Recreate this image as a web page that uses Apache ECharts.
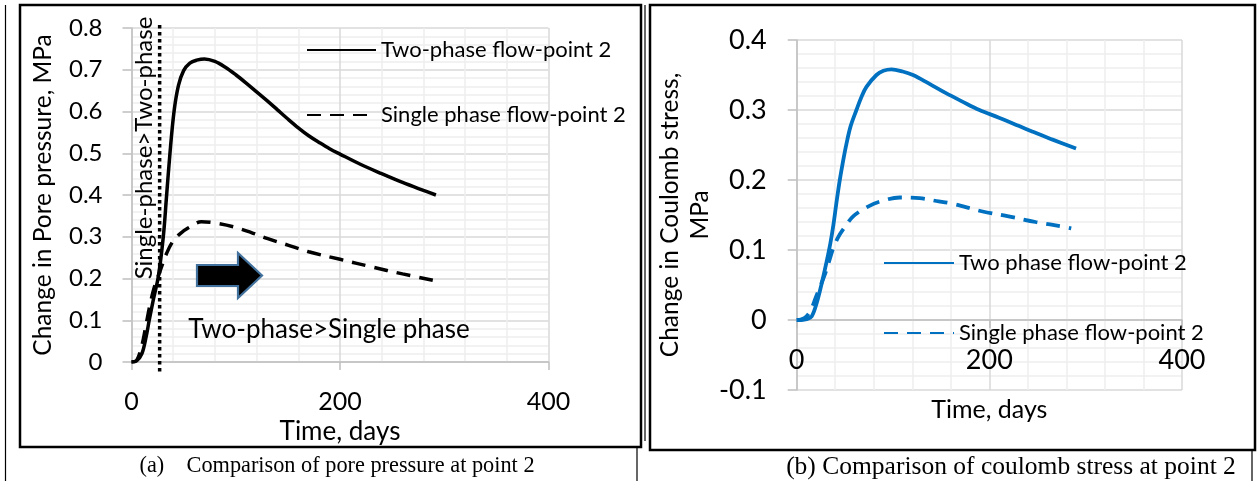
<!DOCTYPE html>
<html>
<head>
<meta charset="utf-8">
<script src="https://cdn.jsdelivr.net/npm/echarts@6/dist/echarts.min.js"></script>
<style>
html,body{margin:0;padding:0;background:#fff;}
#chart{width:1259px;height:481px;}
</style>
</head>
<body>
<div id="chart"></div>
<script>
// ---------- data ----------
const xTicks = [0, 200, 400];
const leftYTicks = [0, 0.1, 0.2, 0.3, 0.4, 0.5, 0.6, 0.7, 0.8];
const rightYTicks = [-0.1, 0, 0.1, 0.2, 0.3, 0.4];

const leftTwoPhaseName = 'Two-phase flow-point 2';
const leftSingleName = 'Single phase flow-point 2';
const rightTwoPhaseName = 'Two phase flow-point 2';
const rightSingleName = 'Single phase flow-point 2 ';

// (a) change in pore pressure, MPa vs time, days
const leftTwoPhase = [[0,0],[5,0.003],[10,0.02],[14,0.06],[17,0.1],[21,0.15],[25.7,0.204],[30.5,0.30],[33.7,0.40],[36.9,0.50],[40.8,0.60],[45,0.662],[50,0.698],[56,0.716],[62.5,0.723],[70,0.726],[80,0.720],[90,0.706],[100,0.688],[110,0.668],[120,0.647],[130,0.626],[140,0.604],[150,0.582],[160,0.561],[170,0.542],[180,0.526],[190,0.511],[200,0.498],[220,0.473],[240,0.451],[260,0.43],[280,0.411],[292,0.40]];
const leftSinglePhase = [[0,0],[5,0.004],[10,0.04],[14,0.09],[18,0.14],[22,0.18],[27,0.215],[34,0.262],[40,0.29],[46.5,0.307],[55,0.322],[67,0.336],[80,0.333],[97.6,0.324],[115,0.31],[130,0.296],[150,0.28],[170,0.264],[200,0.246],[230,0.228],[260,0.211],[289,0.196]];
const dividerDay = [[27,0.807],[27,-0.024]];

// (b) change in Coulomb stress, MPa vs time, days
const rightTwoPhase = [[0,0],[5,0],[10.3,0.001],[15.5,0.005],[20.7,0.024],[25.9,0.052],[31,0.083],[35,0.11],[38,0.135],[41,0.165],[44.5,0.198],[48,0.226],[51.7,0.252],[56,0.277],[62,0.30],[67,0.318],[72.4,0.333],[82.8,0.35],[90,0.356],[98.3,0.358],[110,0.355],[120.7,0.35],[137,0.338],[155,0.324],[172,0.312],[189.7,0.30],[210,0.289],[231,0.277],[245,0.269],[265,0.258],[290,0.245]];
const rightSinglePhase = [[0,0],[5,0.001],[10,0.005],[15,0.015],[20,0.033],[25,0.05],[30,0.068],[35,0.09],[38,0.103],[43,0.118],[48,0.129],[58.6,0.148],[74,0.162],[86,0.169],[107,0.175],[127.6,0.174],[145,0.17],[162,0.166],[193,0.155],[220,0.148],[248,0.14],[278,0.133],[285,0.131]];

// ---------- chart ----------
const FONT = 'Lato, "Open Sans", sans-serif';
const BLUE = '#0070C0';
const chart = echarts.init(document.getElementById('chart'), null, {renderer:'canvas'});

function xAxisCfg(gridIndex, labelSize, margin, nameGap, nameSize, offset) {
  return {
    type:'value', gridIndex, min:0, max:400, interval:200, offset,
    name:'Time, days', nameLocation:'middle', nameGap,
    nameTextStyle:{fontFamily:FONT, fontSize:nameSize, color:'#000'},
    axisLine:{show:true, onZero:false, lineStyle:{color:'#bfbfbf', width:1.5}},
    axisTick:{show:true, length:8, lineStyle:{color:'#bfbfbf', width:1.5}},
    axisLabel:{fontFamily:FONT, fontSize:labelSize, color:'#000', margin},
    splitLine:{show:true, lineStyle:{color:'#d9d9d9', width:1.5}},
    minorTick:{show:false, splitNumber:5},
    minorSplitLine:{show:true, lineStyle:{color:'#eeeeee', width:1.5}}
  };
}
function yAxisCfg(gridIndex, min, max, labelSize, margin, name, nameGap, nameSize, lh) {
  return {
    type:'value', gridIndex, min, max, interval:0.1,
    name, nameLocation:'middle', nameGap, nameRotate:90,
    nameTextStyle:{fontFamily:FONT, fontSize:nameSize, color:'#000', lineHeight:lh, align:'center'},
    axisLine:{show:true, onZero:false, lineStyle:{color:'#bfbfbf', width:1.5}},
    axisTick:{show:true, length:9, lineStyle:{color:'#bfbfbf', width:1.5}},
    axisLabel:{fontFamily:FONT, fontSize:labelSize, color:'#000', margin,
      formatter:v => String(Math.round(v*10)/10)},
    splitLine:{show:true, lineStyle:{color:'#d9d9d9', width:1.5}},
    minorTick:{show:false, splitNumber:5},
    minorSplitLine:{show:true, lineStyle:{color:'#eeeeee', width:1.5}}
  };
}

const legendText = {fontFamily:FONT, fontSize:22, color:'#000', lineHeight:24};
const option = {
  animation:false,
  backgroundColor:'#fff',
  grid:[
    {left:131.5, right:1259-548.5, top:28, bottom:481-362, containLabel:false, outerBoundsMode:'none'},
    {left:796.7, right:1259-1182, top:40, bottom:481-390, containLabel:false, outerBoundsMode:'none'}
  ],
  xAxis:[
    xAxisCfg(0, 25, 27, 52, 26, 0),
    // (b): axis drawn where y = 0 crosses (70 px above the grid bottom)
    xAxisCfg(1, 27, 27, 77, 25, -70)
  ],
  yAxis:[
    yAxisCfg(0, 0, 0.8, 24, 29, 'Change in Pore pressure, MPa', 73, 24.5, 30),
    yAxisCfg(1, -0.1, 0.4, 27, 30, 'Change in Coulomb stress,\nMPa', 80, 24.5, 30)
  ],
  legend:[
    {data:[leftTwoPhaseName, leftSingleName], orient:'vertical', left:301, top:33,
     itemWidth:69, itemHeight:14, itemGap:41, selectedMode:false,
     itemStyle:{opacity:0}, textStyle:legendText},
    {data:[rightTwoPhaseName, rightSingleName], orient:'vertical', left:878, top:246,
     itemWidth:70, itemHeight:14, itemGap:46, selectedMode:false,
     itemStyle:{opacity:0}, textStyle:legendText}
  ],
  series:[
    {name:leftTwoPhaseName, type:'line', xAxisIndex:0, yAxisIndex:0, data:leftTwoPhase,
     smooth:0.35, symbol:'none', lineStyle:{color:'#000', width:3.5}, itemStyle:{color:'#000'}},
    {name:leftSingleName, type:'line', xAxisIndex:0, yAxisIndex:0, data:leftSinglePhase,
     smooth:0.35, symbol:'none', lineStyle:{color:'#000', width:3.5, type:[14,9]}, itemStyle:{color:'#000'}},
    {name:'divider', type:'line', xAxisIndex:0, yAxisIndex:0, data:dividerDay, clip:false,
     symbol:'none', lineStyle:{color:'#000', width:3.5, type:[3.5,3.5]}, z:5},
    {name:rightTwoPhaseName, type:'line', xAxisIndex:1, yAxisIndex:1, data:rightTwoPhase,
     smooth:0.35, symbol:'none', lineStyle:{color:BLUE, width:3.8}, itemStyle:{color:BLUE}},
    {name:rightSingleName, type:'line', xAxisIndex:1, yAxisIndex:1, data:rightSinglePhase,
     smooth:0.35, symbol:'none', lineStyle:{color:BLUE, width:3.8, type:[14,9]}, itemStyle:{color:BLUE}}
  ],
  graphic:[
    // table / frame lines
    {type:'line', shape:{x1:5.5, y1:5, x2:5.5, y2:481}, style:{stroke:'#000', lineWidth:1.2}, z:100},
    {type:'line', shape:{x1:637, y1:447, x2:637, y2:481}, style:{stroke:'#000', lineWidth:1.2}, z:100},
    {type:'line', shape:{x1:1252, y1:450, x2:1252, y2:481}, style:{stroke:'#000', lineWidth:1.2}, z:100},
    {type:'line', shape:{x1:645, y1:5, x2:645, y2:441}, style:{stroke:'#000', lineWidth:1.2}, z:100},
    {type:'rect', shape:{x:20, y:5, width:621, height:442}, style:{fill:'none', stroke:'#000', lineWidth:2.5}, z:100},
    {type:'rect', shape:{x:650, y:5, width:605, height:445}, style:{fill:'none', stroke:'#000', lineWidth:2.5}, z:100},
    // annotations on chart (a)
    {type:'text', x:144, y:148, rotation:Math.PI/2, z:50,
     style:{text:'Single-phase>Two-phase', fill:'#000', font:'24px ' + FONT, align:'center', verticalAlign:'middle'}},
    {type:'text', x:329, y:330, z:50,
     style:{text:'Two-phase>Single phase', fill:'#000', font:'26px ' + FONT, align:'center', verticalAlign:'middle'}},
    {type:'polygon', z:50,
     shape:{points:[[197,265],[238,265],[238,253],[262,275.5],[238,298],[238,286],[197,286]]},
     style:{fill:'#000', stroke:'#41719C', lineWidth:2.2}},
    // captions
    {type:'text', x:337, y:466, z:50,
     style:{text:'(a)    Comparison of pore pressure at point 2', fill:'#000', font:'22.3px "Liberation Serif", "Times New Roman", serif', align:'center', verticalAlign:'middle'}},
    {type:'text', x:1011, y:467, z:50,
     style:{text:'(b) Comparison of coulomb stress at point 2', fill:'#000', font:'25.5px "Liberation Serif", "Times New Roman", serif', align:'center', verticalAlign:'middle'}}
  ]
};
chart.setOption(option);
</script>
</body>
</html>
